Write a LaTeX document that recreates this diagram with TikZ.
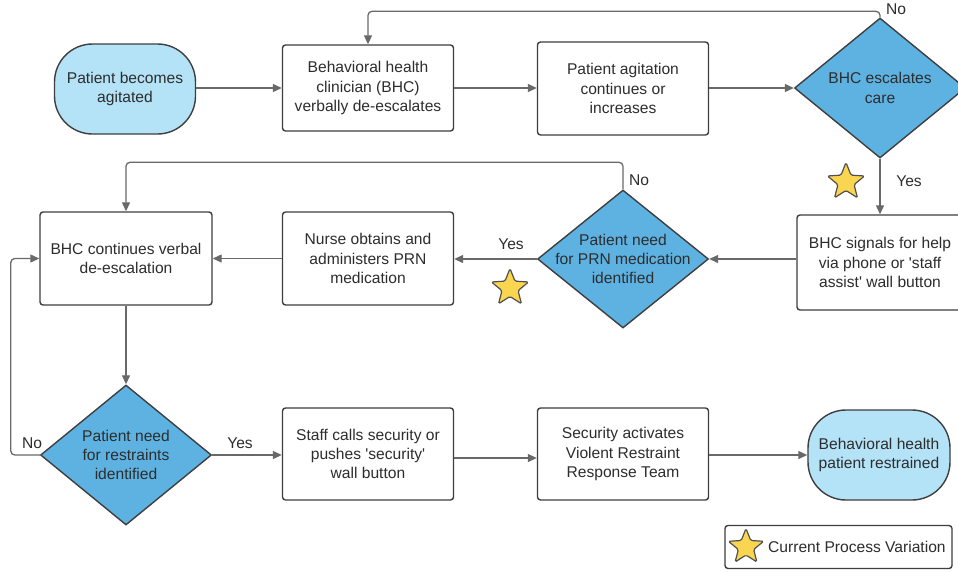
\documentclass[tikz,border=0pt]{standalone}
\usepackage{fontspec}
\setmainfont{Liberation Sans}
\usetikzlibrary{arrows.meta,shapes.geometric}
\definecolor{diafill}{RGB}{94,178,226}
\definecolor{termfill}{RGB}{180,226,246}
\definecolor{bordercol}{RGB}{62,62,62}
\definecolor{linecol}{RGB}{105,105,105}
\definecolor{txtcol}{RGB}{45,45,45}
\definecolor{starfill}{RGB}{250,214,80}
\definecolor{starline}{RGB}{80,80,80}
\newcommand{\sq}{\textquotesingle}
\begin{document}
\begin{tikzpicture}[x=1pt,y=-1pt,
 every node/.style={font=\fontsize{15.6}{19.2}\selectfont, text=txtcol},
 procbox/.style={draw=bordercol, line width=1.4pt, rounded corners=3pt, fill=white, minimum width=171pt, minimum height=92pt, align=center, inner sep=0pt},
 termbox/.style={draw=bordercol, line width=1.4pt, rounded corners=38pt, fill=termfill, minimum width=141pt, minimum height=90pt, align=center, inner sep=0pt},
 decbox/.style={diamond, draw=bordercol, line width=1.4pt, fill=diafill, minimum width=171pt, minimum height=140pt, inner sep=0pt},
 dectext/.style={align=center, inner sep=0pt},
 conn/.style={draw=linecol, line width=1.3pt, -{Triangle[length=9pt,width=8pt]}},
 lbl/.style={inner sep=0pt},
 starmark/.style={star, star points=5, star point ratio=2.3, draw=starline, fill=starfill, line width=1.2pt, minimum size=39pt, inner sep=0pt, rounded corners=1.5pt}
]
\useasboundingbox (0,0) rectangle (958,571);
\fill[white] (0,0) rectangle (958,571);

% row 1
\node[termbox] (t1) at (125,89) {Patient becomes\\agitated};
\node[procbox, minimum height=86pt] (b1) at (368,88) {Behavioral health\\clinician (BHC)\\verbally de-escalates};
\node[procbox, minimum height=93pt] (b2) at (623,88.5) {Patient agitation\\continues or\\increases};
\node[decbox] (d1) at (880,88) {};
\node[dectext] (d1t) at (d1) {BHC escalates\\care};

% row 2
\node[procbox, minimum width=166pt, minimum height=95pt] (b3) at (880,262.5) {BHC signals for help\\via phone or \sq staff\\assist\sq{} wall button};
\node[decbox, minimum height=138pt] (d2) at (623,259) {};
\node[dectext] (d2t) at (d2) {Patient need\\for PRN medication\\identified};
\node[procbox, minimum height=93pt] (b4) at (368,258.5) {Nurse obtains and\\administers PRN\\medication};
\node[procbox, minimum width=172pt, minimum height=93pt] (b5) at (126,258.5) {BHC continues verbal\\de-escalation};

% row 3
\node[decbox] (d3) at (126,455) {};
\node[dectext] (d3t) at (d3) {Patient need\\for restraints\\identified};
\node[procbox, minimum height=92pt] (b6) at (368,454) {Staff calls security or\\pushes \sq security\sq\\wall button};
\node[procbox, minimum height=92pt] (b7) at (623,454) {Security activates\\Violent Restraint\\Response Team};
\node[termbox, minimum width=142pt] (t2) at (879,455) {Behavioral health\\patient restrained};

% connectors
\coordinate (r1) at (0,88);
\coordinate (r2) at (0,258.5);
\coordinate (r3) at (0,455);
\coordinate (r3b) at (0,458);
\draw[conn] (t1.east |- r1) -- (b1.west |- r1);
\draw[conn] (b1.east |- r1) -- (b2.west |- r1);
\draw[conn] (b2.east |- r1) -- (d1.west);
\draw[conn, rounded corners=4pt] (d1.north) -- ++(0,-6) -| (b1.north);
\draw[conn] (d1.south) -- (b3.north);
\draw[conn] (d2.east -| b3.west) -- (d2.east);
\draw[conn] (d2.west) -- (b4.east |- d2.west);
\draw[conn] (b4.west |- r2) -- (b5.east |- r2);
\draw[conn, rounded corners=4pt] (d2.north) -- ++(0,-27) -| (b5.north);
\draw[conn] (b5.south) -- (d3.north);
\draw[conn, rounded corners=4pt] (d3.west) -- ++(-29,0) |- (b5.west |- r2);
\draw[conn] (d3.east) -- (b6.west |- d3.east);
\draw[conn] (b6.east |- r3b) -- (b7.west |- r3b);
\draw[conn] (b7.east |- r3) -- (t2.west |- r3);

% labels
\node[lbl] (l1) at (896,9) {No};
\node[lbl] (l2) at (909,181) {Yes};
\node[lbl] (l3) at (639,180) {No};
\node[lbl] (l4) at (511,244) {Yes};
\node[lbl] (l5) at (32,443) {No};
\node[lbl] (l6) at (240,443) {Yes};

% stars
\node[starmark] (s1) at (846,182) {};
\node[starmark] (s2) at (510,288) {};

% legend
\node[draw=bordercol, line width=1.4pt, rounded corners=3pt, minimum width=227pt, minimum height=43pt, inner sep=0pt] (leg) at (838.5,547) {};
\node[starmark, minimum size=37pt] (s3) at (746,547) {};
\node[lbl, anchor=west] (legt) at (768,547) {Current Process Variation};
\end{tikzpicture}
\end{document}
